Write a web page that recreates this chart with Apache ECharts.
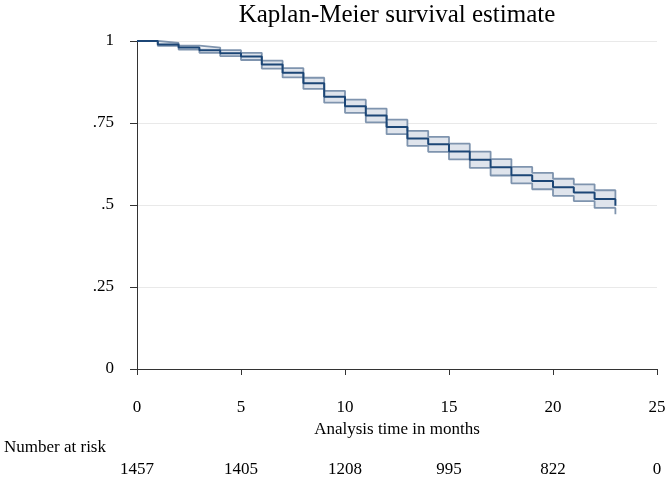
<!DOCTYPE html>
<html><head><meta charset="utf-8">
<script src="https://cdn.jsdelivr.net/npm/echarts@6/dist/echarts.min.js"></script>
<style>html,body{margin:0;padding:0;background:#fff}#c{width:670px;height:478px}</style>
</head><body><div id="c"></div>
<script>
const months = [0,1,2,3,4,5,6,7,8,9,10,11,12,13,14,15,16,17,18,19,20,21,22,23];
const survival = [1.000,0.989,0.980,0.972,0.963,0.953,0.928,0.903,0.871,0.830,0.801,0.773,0.738,0.703,0.685,0.663,0.638,0.615,0.591,0.573,0.554,0.538,0.518,0.498];
const lowerCI  = [1.000,0.985,0.974,0.964,0.954,0.942,0.916,0.889,0.854,0.812,0.781,0.752,0.716,0.680,0.662,0.639,0.613,0.590,0.566,0.548,0.528,0.512,0.491,0.472];
const upperCI  = [1.000,0.994,0.986,0.980,0.972,0.964,0.940,0.917,0.888,0.848,0.821,0.794,0.760,0.726,0.708,0.687,0.663,0.640,0.616,0.598,0.580,0.563,0.545,0.520];
const xTicks = [0,5,10,15,20,25];
const atRisk = [1457,1405,1208,995,822,0];
const yTicks = [0,0.25,0.5,0.75,1];
const yTickLabels = ['0','.25','.5','.75','1'];

const FONT = '"Liberation Serif","DejaVu Serif",serif';
const chart = echarts.init(document.getElementById('c'), null, {renderer:'canvas'});
const bandData = [];
for (let i = 0; i < months.length - 1; i++) bandData.push([months[i], months[i+1], lowerCI[i], upperCI[i]]);
const lowerData = months.map((m,i)=>[m, lowerCI[i]]);
const upperData = months.map((m,i)=>[m, upperCI[i]]);
const survData = months.map((m,i)=>[m, survival[i]]);
const bandColor = '#7f94ae';

chart.setOption({
  animation:false,
  backgroundColor:'#ffffff',
  grid:{left:137,right:13,top:41,bottom:104,containLabel:false},
  xAxis:[{
    type:'value',min:0,max:25,interval:5,position:'bottom',offset:12,
    name:'Analysis time in months',nameLocation:'middle',nameGap:29,
    nameTextStyle:{fontFamily:FONT,fontSize:17,color:'#000'},
    axisLine:{show:true,lineStyle:{color:'#333',width:1}},
    axisTick:{show:true,length:6,lineStyle:{color:'#333'}},
    axisLabel:{fontFamily:FONT,fontSize:17,color:'#000',margin:18},
    splitLine:{show:false}
  },{
    type:'value',min:0,max:25,interval:5,position:'bottom',offset:84,
    axisLine:{show:false},axisTick:{show:false},splitLine:{show:false},
    axisLabel:{fontFamily:FONT,fontSize:17,color:'#000',margin:8,
      formatter:v=>{const k=xTicks.indexOf(v);return k>=0?String(atRisk[k]):'';}}
  }],
  yAxis:{
    type:'value',min:0,max:1,interval:0.25,position:'left',offset:11,
    axisLine:{show:true,lineStyle:{color:'#333',width:1}},
    axisTick:{show:true,length:7,lineStyle:{color:'#333'}},
    axisLabel:{fontFamily:FONT,fontSize:17,color:'#000',margin:12,
      formatter:v=>{const k=yTicks.findIndex(t=>Math.abs(t-v)<1e-9);return k>=0?yTickLabels[k]:'';}},
    splitLine:{show:true,lineStyle:{color:'#e9e9e9',width:1}}
  },
  graphic:[
    {type:'text',x:397,y:15,style:{text:'Kaplan-Meier survival estimate',font:'25px '+FONT,fill:'#000',align:'center',verticalAlign:'middle'}},
    {type:'text',x:4,y:448,style:{text:'Number at risk',font:'17px '+FONT,fill:'#000',align:'left',verticalAlign:'middle'}}
  ],
  series:[
    {type:'custom',name:'band',data:bandData,encode:{x:[0,1],y:[2,3]},z:1,
     renderItem:(params, api)=>{
       const p1 = api.coord([api.value(0), api.value(3)]);
       const p2 = api.coord([api.value(1), api.value(2)]);
       return {type:'rect',shape:{x:p1[0],y:p1[1],width:p2[0]-p1[0],height:p2[1]-p1[1]},
               style:{fill:'#dfe4ec'}};
     }},
    {type:'line',name:'lower',data:lowerData,step:'end',symbol:'none',
     lineStyle:{color:bandColor,width:1.8},z:2},
    {type:'line',name:'upper',data:upperData,step:'end',symbol:'none',
     lineStyle:{color:bandColor,width:1.8},z:2},
    {type:'line',name:'S',data:survData,step:'end',symbol:'none',
     lineStyle:{color:'#1c4676',width:2},z:3}
  ]
});
</script></body></html>
